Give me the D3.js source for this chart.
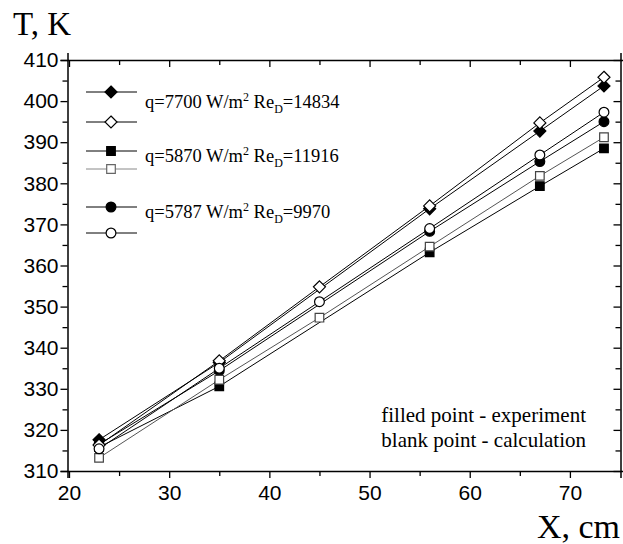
<!DOCTYPE html>
<html>
<head>
<meta charset="utf-8">
<script src="https://cdn.jsdelivr.net/npm/d3@7"></script>
<style>
    body { margin: 0; background: #fff; }
    svg { display: block; }
</style>
</head>
<body>
<div id="chart"></div>
<script>

// data
var xCalc = [23, 35, 45, 56, 67, 73.4];
var xExp = [23, 35, 56, 67, 73.4];

var exp7700 = [317.6, 336.4, 373.8, 392.7, 403.7];
var calc7700 = [316.3, 336.8, 354.8, 374.5, 394.7, 405.8];
var exp5870 = [315.8, 330.6, 363.2, 379.3, 388.5];
var calc5870 = [313.2, 332.2, 347.3, 364.6, 381.8, 391.2];
var exp5787 = [316.5, 334.4, 368.3, 385.3, 395.0];
var calc5787 = [315.4, 335.0, 351.2, 369.0, 386.9, 397.3];

var xTicks = [20, 30, 40, 50, 60, 70];
var yTicks = [310, 320, 330, 340, 350, 360, 370, 380, 390, 400, 410];

var legendRows = [
    {q: "7700", re: "14834", sym: "diamond"},
    {q: "5870", re: "11916", sym: "square"},
    {q: "5787", re: "9970", sym: "circle"}
];

var width = 623,
    height = 544;

var svg = d3.select("#chart").append("svg")
    .attr("width", width)
    .attr("height", height);

// scales
var x = d3.scaleLinear().domain([19.85, 75.05]).range([67.5, 620.5]);
var y = d3.scaleLinear().domain([310, 410]).range([471, 60]);

var serif = "'Liberation Serif', 'Times New Roman', serif";
var sans = "'Liberation Sans', Arial, sans-serif";

// axes (bottom/left ticks out, top/right ticks in)
var minorX = d3.range(25, 75, 10);
var minorY = d3.range(315, 410, 10);

function drawAxis(axis, pos, major, minor, labels, inward) {
    var g = svg.append("g").attr("transform", pos);
    g.call(axis.tickValues(major).tickSize(7).tickFormat(labels ? d3.format("d") : ""));
    var g2 = svg.append("g").attr("transform", pos);
    g2.call(axis.tickValues(minor).tickSize(5).tickFormat(""));
    g2.select(".domain").remove();
    g.select(".domain").attr("stroke-width", 1.5);
    g.selectAll(".tick line").attr("stroke-width", 1.3);
    g2.selectAll(".tick line").attr("stroke-width", 1.3);
    g.selectAll("text").attr("font-family", sans).attr("font-size", 21).attr("fill", "#000");
    if (inward) {
        [g, g2].forEach(function (gg) {
            gg.selectAll(".tick line").each(function () {
                var l = d3.select(this);
                if (l.attr("y2")) l.attr("y2", -l.attr("y2"));
                if (l.attr("x2")) l.attr("x2", -l.attr("x2"));
            });
        });
    }
    return g;
}

var gx = drawAxis(d3.axisBottom(x), "translate(0,471)", xTicks, minorX, true, false);
gx.selectAll("text").attr("dy", "0.92em");
var gy = drawAxis(d3.axisLeft(y), "translate(67.5,0)", yTicks, minorY, true, false);
gy.selectAll("text").attr("x", -9);
drawAxis(d3.axisTop(x), "translate(0,60)", xTicks, minorX, false, true);
drawAxis(d3.axisRight(y), "translate(620.5,0)", yTicks, minorY, false, true);

// axis titles
svg.append("text").attr("x", 13).attr("y", 35)
    .attr("font-family", serif).attr("font-size", 33).text("T, K");
svg.append("text").attr("x", 620).attr("y", 538).attr("text-anchor", "end")
    .attr("font-family", serif).attr("font-size", 34).text("X, cm");

// markers
function symPath(sym) {
    if (sym === "diamond") return "M0,-6L6,0L0,6L-6,0Z";
    if (sym === "square") return "M-4.3,-4.3H4.3V4.3H-4.3Z";
    return d3.symbol().type(d3.symbolCircle).size(75)();
}

function marker(g, sym, cx, cy, filled, stroke) {
    g.append("path")
        .attr("d", symPath(sym))
        .attr("transform", "translate(" + cx + "," + cy + ")")
        .attr("fill", filled ? "#000" : "#fff")
        .attr("stroke", stroke)
        .attr("stroke-width", 1.2);
}

var series = [
    {xs: xExp, ys: exp7700, sym: "diamond", filled: true, color: "#000"},
    {xs: xExp, ys: exp5870, sym: "square", filled: true, color: "#000"},
    {xs: xExp, ys: exp5787, sym: "circle", filled: true, color: "#000"},
    {xs: xCalc, ys: calc7700, sym: "diamond", filled: false, color: "#000"},
    {xs: xCalc, ys: calc5870, sym: "square", filled: false, color: "#444"},
    {xs: xCalc, ys: calc5787, sym: "circle", filled: false, color: "#000"}
];

var line = d3.line()
    .x(function (d) { return x(d[0]); })
    .y(function (d) { return y(d[1]); });

var plot = svg.append("g");

// lines first
series.forEach(function (s) {
    var pts = s.xs.map(function (v, i) { return [v, s.ys[i]]; });
    plot.append("path")
        .attr("d", line(pts))
        .attr("fill", "none")
        .attr("stroke", s.color === "#444" ? "#555" : "#000")
        .attr("stroke-width", 1);
});

// then markers, open ones on top
series.forEach(function (s) {
    s.xs.forEach(function (v, i) {
        marker(plot, s.sym, x(v), y(s.ys[i]), s.filled, s.color);
    });
});

// legend
var legY = [[92, 122, 108], [151, 169, 162], [207, 233, 218]];

legendRows.forEach(function (r, i) {
    var lg = svg.append("g");
    var grayOpen = r.sym === "square";
    lg.append("line").attr("x1", 86).attr("x2", 137).attr("y1", legY[i][0]).attr("y2", legY[i][0])
        .attr("stroke", "#000").attr("stroke-width", 1);
    lg.append("line").attr("x1", 86).attr("x2", 137).attr("y1", legY[i][1]).attr("y2", legY[i][1])
        .attr("stroke", grayOpen ? "#888" : "#000").attr("stroke-width", 1);
    marker(lg, r.sym, 111, legY[i][0], true, "#000");
    marker(lg, r.sym, 111, legY[i][1], false, grayOpen ? "#666" : "#000");

    var t = lg.append("text").attr("x", 145).attr("y", legY[i][2])
        .attr("font-family", serif).attr("font-size", 18.5);
    t.append("tspan").text("q=" + r.q + " W/m");
    t.append("tspan").attr("font-size", 12).attr("dy", -7).text("2");
    t.append("tspan").attr("dy", 7).text(" Re");
    t.append("tspan").attr("font-size", 12).attr("dy", 5).text("D");
    t.append("tspan").attr("dy", -5).text("=" + r.re);
});

// note
svg.append("text").attr("x", 586).attr("y", 422).attr("text-anchor", "end")
    .attr("font-family", serif).attr("font-size", 21).text("filled point - experiment");
svg.append("text").attr("x", 586).attr("y", 447).attr("text-anchor", "end")
    .attr("font-family", serif).attr("font-size", 21).text("blank point - calculation");

</script>
</body>
</html>
